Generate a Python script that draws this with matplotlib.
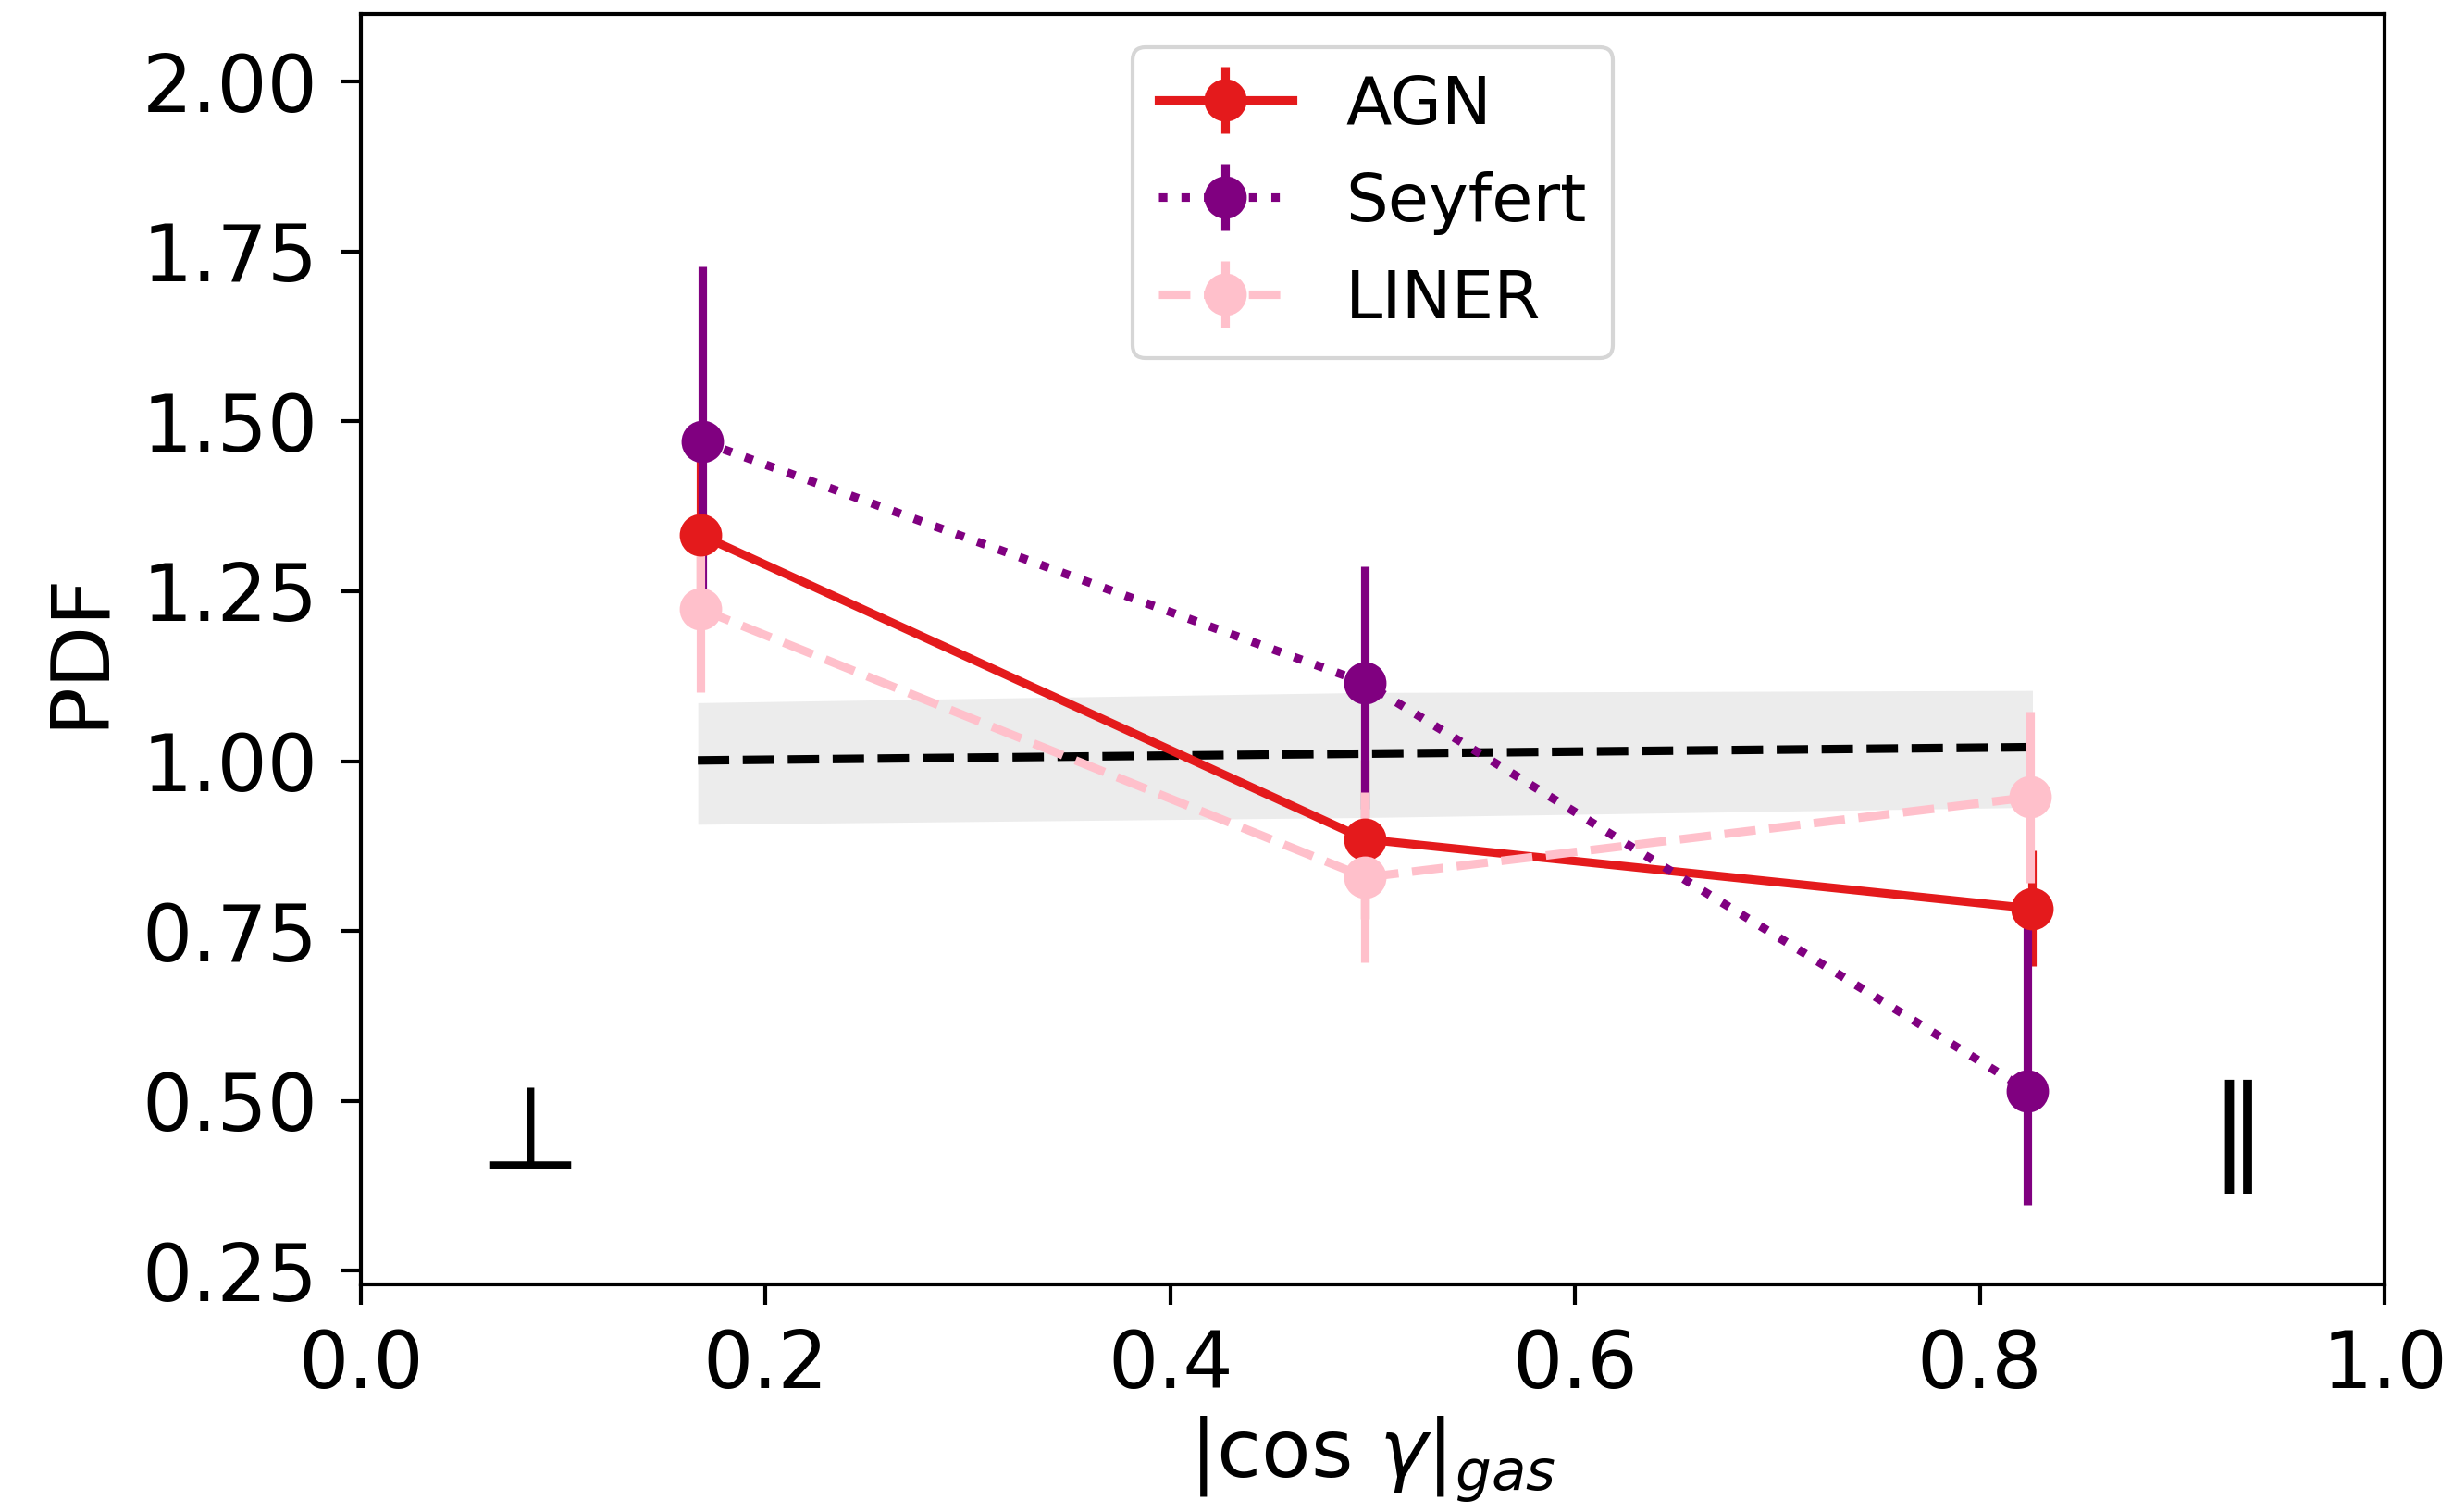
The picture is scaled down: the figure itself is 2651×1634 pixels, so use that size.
import numpy as np
import matplotlib
matplotlib.use("Agg")
import matplotlib.pyplot as plt

# mean |cos gamma| of each bin, per sample
agn_x = [0.1677, 0.4963, 0.8258]
seyfert_x = [0.1689, 0.4963, 0.8237]
liner_x = [0.1677, 0.4963, 0.8248]

agn = [1.333, 0.885, 0.783]
agn_err = [0.13, 0.117, 0.085]

seyfert = [1.470, 1.115, 0.515]
seyfert_lo = [0.258, 0.185, 0.168]
seyfert_hi = [0.258, 0.172, 0.26]

liner = [1.224, 0.829, 0.947]
liner_err = [0.123, 0.125, 0.126]

# random-orientation expectation and its scatter
rand_x = [0.1665, 0.4963, 0.826]
rand_mean = [1.001, 1.011, 1.0205]
rand_lo = [0.907, 0.917, 0.932]
rand_hi = [1.086, 1.101, 1.104]

W, H, DPI = 2651, 1634, 300
fig = plt.figure(figsize=(W / DPI, H / DPI), dpi=DPI)
ax = fig.add_axes([390 / W, 1 - 1388 / H, (2577 - 390) / W, (1388 - 14.7) / H])

lw = 2.2
ax.fill_between(rand_x, rand_lo, rand_hi, color="grey", alpha=0.15, lw=0)
ax.plot(rand_x, rand_mean, "k--", lw=lw)

ax.errorbar(agn_x, agn, yerr=agn_err, color="#e41a1c", marker="o", ms=10,
            ls="-", lw=lw, label="AGN")
ax.errorbar(seyfert_x, seyfert, yerr=[seyfert_lo, seyfert_hi], color="purple",
            marker="o", ms=10, ls=":", lw=lw, label="Seyfert")
ax.errorbar(liner_x, liner, yerr=liner_err, color="pink", marker="o", ms=10,
            ls="--", lw=lw, label="LINER")

ax.text(0.0837, 0.40, "\u22a5", fontsize=30, ha="center", va="baseline")
ax.text(0.9278, 0.40, "\u2225", fontsize=30, ha="center", va="baseline")

ax.set_xlim(0, 1)
ax.set_ylim(0.23, 2.1)
ax.set_yticks([0.25, 0.5, 0.75, 1.0, 1.25, 1.5, 1.75, 2.0])
ax.tick_params(labelsize=20.5, length=5.2, width=1, pad=6)
for s in ax.spines.values():
    s.set_linewidth(1)

ax.set_xlabel(r"$|\cos\,\gamma|_{gas}$", fontsize=21, labelpad=2.5)
ax.set_ylabel("PDF", fontsize=21, labelpad=6)

ax.legend(loc="upper center", fontsize=17.3)

fig.savefig("out.png", dpi=DPI)
